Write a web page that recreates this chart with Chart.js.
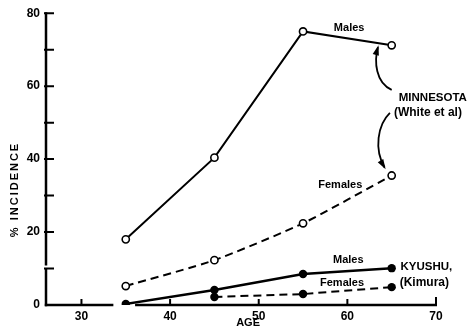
<!DOCTYPE html>
<html>
<head>
<meta charset="utf-8">
<script src="https://cdn.jsdelivr.net/npm/chart.js@4/dist/chart.umd.min.js"></script>
<style>
  html, body { margin: 0; padding: 0; background: #fff; }
  #wrap { width: 468px; height: 326px; }
</style>
</head>
<body>
<div id="wrap"><canvas id="c" width="468" height="326"></canvas></div>
<script>
// Incidence by age group, Minnesota vs. Kyushu
const ages = [35, 45, 55, 65];
const minnesotaMales = [18.0, 40.4, 75.0, 71.2];
const minnesotaFemales = [5.2, 12.3, 22.4, 35.5];
const kyushuMales = [0.3, 4.1, 8.5, 10.1];
const kyushuFemales = [null, 2.2, 3.0, 4.9];
const xTicks = [30, 40, 50, 60, 70];
const yTicks = [0, 10, 20, 30, 40, 50, 60, 70, 80];
const yLabelEvery = 20;

// Text placed in data coordinates: [text, age, percent, align, size]
const notes = [
  ['Males', 60.2, 75.9, 'center', 11],
  ['MINNESOTA', 65.8, 56.8, 'left', 11.5],
  ['(White et al)', 65.25, 52.7, 'left', 12],
  ['Females', 59.2, 33.0, 'center', 11],
  ['Males', 60.1, 12.3, 'center', 11],
  ['Females', 59.4, 6.0, 'center', 11],
  ['KYUSHU,', 66.0, 10.4, 'left', 11.5],
  ['(Kimura)', 65.9, 6.0, 'left', 12]
];

// Curved pointers from the MINNESOTA label to its two lines (data coordinates:
// start, control 1, control 2, tip)
const pointers = [
  [[65.0, 59.0], [63.2, 60.8], [63.0, 66.8], [63.45, 70.7]],
  [[64.8, 52.7], [63.4, 49.4], [63.0, 42.6], [64.2, 37.7]]
];

const xMin = 26, xMax = 70;
// short breaks in the axis lines
const xBreak = [33.6, 36.05];
const yBreak = [10.15, 10.8];

const FONT = '"Liberation Sans", Arial, sans-serif';

function pts(vals) {
  return ages.map((a, i) => ({ x: a, y: vals[i] }));
}

const decor = {
  id: 'decor',
  beforeDatasetsDraw(chart) {
    const { ctx } = chart;
    const xs = chart.scales.x, ys = chart.scales.y;
    const x0 = xs.getPixelForValue(xMin);
    const y0 = ys.getPixelForValue(0);
    ctx.save();
    ctx.strokeStyle = '#000';
    ctx.lineWidth = 2.5;
    ctx.lineCap = 'butt';
    // y axis in two parts
    ctx.beginPath();
    ctx.moveTo(x0, ys.getPixelForValue(80) - 1);
    ctx.lineTo(x0, ys.getPixelForValue(yBreak[1]));
    ctx.moveTo(x0, ys.getPixelForValue(yBreak[0]));
    ctx.lineTo(x0, y0 + 1.2);
    ctx.stroke();
    // x axis in two parts
    ctx.beginPath();
    ctx.moveTo(x0 - 1.2, y0);
    ctx.lineTo(xs.getPixelForValue(xBreak[0]), y0);
    ctx.moveTo(xs.getPixelForValue(xBreak[1]), y0);
    ctx.lineTo(xs.getPixelForValue(xMax) + 1, y0);
    ctx.stroke();
    // inward tick marks
    ctx.lineWidth = 2;
    ctx.beginPath();
    yTicks.forEach(v => {
      if (v === 0) return;
      const y = ys.getPixelForValue(v);
      ctx.moveTo(x0 - 2, y);
      ctx.lineTo(x0 + 8, y);
    });
    xTicks.forEach(v => {
      const x = xs.getPixelForValue(v);
      ctx.moveTo(x, y0);
      ctx.lineTo(x, y0 - (v === xMax ? 8 : 6));
    });
    ctx.stroke();
    ctx.restore();
  },
  afterDatasetsDraw(chart) {
    const { ctx } = chart;
    const xs = chart.scales.x, ys = chart.scales.y;
    const P = p => [xs.getPixelForValue(p[0]), ys.getPixelForValue(p[1])];
    ctx.save();
    ctx.fillStyle = '#000';
    ctx.strokeStyle = '#000';
    ctx.textBaseline = 'middle';
    notes.forEach(([t, a, v, align, size]) => {
      ctx.font = 'bold ' + size + 'px ' + FONT;
      ctx.textAlign = align;
      ctx.fillText(t, xs.getPixelForValue(a), ys.getPixelForValue(v));
    });
    // pointers with arrowheads
    ctx.lineWidth = 1.8;
    pointers.forEach(c => {
      const [s, c1, c2, e] = c.map(P);
      ctx.beginPath();
      ctx.moveTo(s[0], s[1]);
      ctx.bezierCurveTo(c1[0], c1[1], c2[0], c2[1], e[0], e[1]);
      ctx.stroke();
      const ang = Math.atan2(e[1] - c2[1], e[0] - c2[0]);
      const L = 8, W = 3.2;
      ctx.beginPath();
      ctx.moveTo(e[0] + Math.cos(ang) * 2, e[1] + Math.sin(ang) * 2);
      ctx.lineTo(e[0] - Math.cos(ang) * L + Math.sin(ang) * W, e[1] - Math.sin(ang) * L - Math.cos(ang) * W);
      ctx.lineTo(e[0] - Math.cos(ang) * L - Math.sin(ang) * W, e[1] - Math.sin(ang) * L + Math.cos(ang) * W);
      ctx.closePath();
      ctx.fill();
    });
    // axis titles
    ctx.textAlign = 'center';
    ctx.font = 'bold 11px ' + FONT;
    ctx.fillText('AGE', xs.getPixelForValue(48.8), 323);
    ctx.save();
    ctx.translate(15, ys.getPixelForValue(31.4));
    ctx.rotate(-Math.PI / 2);
    ctx.letterSpacing = '2px';
    ctx.fillText('% INCIDENCE', 1, 0);
    ctx.restore();
    ctx.restore();
  }
};

const openPoint = {
  pointStyle: 'circle',
  pointRadius: 3.6,
  pointBorderWidth: 1.6,
  pointBackgroundColor: '#fff',
  pointBorderColor: '#000'
};
const solidPoint = {
  pointStyle: 'circle',
  pointRadius: 4.2,
  pointBorderWidth: 0,
  pointBackgroundColor: '#000',
  pointBorderColor: '#000'
};

new Chart(document.getElementById('c'), {
  type: 'line',
  data: {
    datasets: [
      Object.assign({ label: 'Minnesota males', data: pts(minnesotaMales), borderColor: '#000', borderWidth: 2, tension: 0 }, openPoint),
      Object.assign({ label: 'Minnesota females', data: pts(minnesotaFemales), borderColor: '#000', borderWidth: 2, borderDash: [8, 5], tension: 0.2 }, openPoint),
      Object.assign({ label: 'Kyushu males', data: pts(kyushuMales), borderColor: '#000', borderWidth: 2.5, tension: 0 }, solidPoint),
      Object.assign({ label: 'Kyushu females', data: pts(kyushuFemales), borderColor: '#000', borderWidth: 2, borderDash: [8, 5], tension: 0 }, solidPoint)
    ]
  },
  options: {
    responsive: false,
    animation: false,
    devicePixelRatio: 1,
    layout: { padding: { top: 12, right: 32, left: 0, bottom: 0 } },
    plugins: { legend: { display: false }, tooltip: { enabled: false } },
    scales: {
      x: {
        type: 'linear',
        min: xMin,
        max: xMax,
        afterBuildTicks: s => { s.ticks = xTicks.map(v => ({ value: v })); },
        afterFit: s => { s.height = 21; },
        grid: { display: false, drawTicks: false },
        border: { display: false },
        ticks: { color: '#000', font: { family: FONT, size: 12, weight: 'bold' }, padding: 4, maxRotation: 0, autoSkip: false }
      },
      y: {
        min: 0,
        max: 80,
        afterBuildTicks: s => { s.ticks = yTicks.map(v => ({ value: v })); },
        afterFit: s => { s.width = 46; },
        grid: { display: false, drawTicks: false },
        border: { display: false },
        ticks: {
          color: '#000',
          font: { family: FONT, size: 12, weight: 'bold' },
          padding: 6,
          autoSkip: false,
          callback: v => (v % yLabelEvery === 0 ? String(v) : '')
        }
      }
    }
  },
  plugins: [decor]
});
</script>
</body>
</html>
